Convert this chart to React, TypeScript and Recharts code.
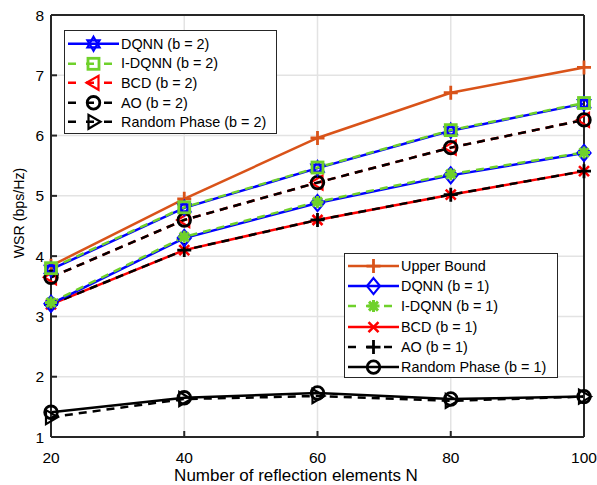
import React from 'react'
import { LineChart, Line, XAxis, YAxis, CartesianGrid } from 'recharts'

const N = [20, 40, 60, 80, 100]
const upperBound = [3.84, 4.95, 5.96, 6.71, 7.13]
const dqnnB2 = [3.78, 4.8, 5.46, 6.08, 6.53]
const idqnnB2 = [3.8, 4.81, 5.47, 6.09, 6.54]
const bcdB2 = [3.65, 4.6, 5.22, 5.8, 6.26]
const aoB2 = [3.65, 4.6, 5.22, 5.8, 6.26]
const rpB2 = [1.33, 1.63, 1.68, 1.6, 1.67]
const dqnnB1 = [3.21, 4.3, 4.88, 5.34, 5.71]
const idqnnB1 = [3.23, 4.32, 4.9, 5.36, 5.72]
const bcdB1 = [3.2, 4.1, 4.6, 5.02, 5.41]
const aoB1 = [3.2, 4.1, 4.6, 5.02, 5.41]
const rpB1 = [1.41, 1.65, 1.73, 1.63, 1.67]
const yTicks = [1, 2, 3, 4, 5, 6, 7, 8]

const ORANGE = '#D95319'
const BLUE = '#0000FF'
const GREEN = '#6FD12B'
const RED = '#FF0000'
const BLACK = '#000000'
const AXIS = '#262626'
const FONT = '"Liberation Sans", Arial, sans-serif'

type Shape =
  | 'hexagram'
  | 'square'
  | 'triLeft'
  | 'triRight'
  | 'circle'
  | 'plus'
  | 'diamond'
  | 'asterisk'
  | 'cross'

interface SeriesConfig {
  key: string
  name: string
  values: number[]
  color: string
  dashed: boolean
  shape: Shape
}

const seriesB2: SeriesConfig[] = [
  { key: 'dqnnB2', name: 'DQNN (b = 2)', values: dqnnB2, color: BLUE, dashed: false, shape: 'hexagram' },
  { key: 'idqnnB2', name: 'I-DQNN (b = 2)', values: idqnnB2, color: GREEN, dashed: true, shape: 'square' },
  { key: 'bcdB2', name: 'BCD (b = 2)', values: bcdB2, color: RED, dashed: true, shape: 'triLeft' },
  { key: 'aoB2', name: 'AO (b = 2)', values: aoB2, color: BLACK, dashed: true, shape: 'circle' },
  { key: 'rpB2', name: 'Random Phase (b = 2)', values: rpB2, color: BLACK, dashed: true, shape: 'triRight' },
]

const seriesB1: SeriesConfig[] = [
  { key: 'upper', name: 'Upper Bound', values: upperBound, color: ORANGE, dashed: false, shape: 'plus' },
  { key: 'dqnnB1', name: 'DQNN (b = 1)', values: dqnnB1, color: BLUE, dashed: false, shape: 'diamond' },
  { key: 'idqnnB1', name: 'I-DQNN (b = 1)', values: idqnnB1, color: GREEN, dashed: true, shape: 'asterisk' },
  { key: 'bcdB1', name: 'BCD (b = 1)', values: bcdB1, color: RED, dashed: false, shape: 'cross' },
  { key: 'aoB1', name: 'AO (b = 1)', values: aoB1, color: BLACK, dashed: true, shape: 'plus' },
  { key: 'rpB1', name: 'Random Phase (b = 1)', values: rpB1, color: BLACK, dashed: false, shape: 'circle' },
]

// draw order: b=1 group first, then b=2 on top
const drawOrder: SeriesConfig[] = [
  seriesB1[0],
  seriesB1[3],
  seriesB1[4],
  seriesB1[1],
  seriesB1[2],
  seriesB1[5],
  seriesB2[2],
  seriesB2[3],
  seriesB2[4],
  seriesB2[0],
  seriesB2[1],
]

const data = N.map((n, i) => {
  const row: Record<string, number> = { n }
  ;[...seriesB1, ...seriesB2].forEach((s) => {
    row[s.key] = s.values[i]
  })
  return row
})

function Marker({ shape, cx, cy, color }: { shape: Shape; cx: number; cy: number; color: string }) {
  const sw = 2.2
  const common = { fill: 'none', stroke: color, strokeWidth: sw }
  const r = 7
  switch (shape) {
    case 'hexagram': {
      const t1 = [0, 1, 2].map((k) => {
        const a = -Math.PI / 2 + (k * 2 * Math.PI) / 3
        return `${cx + r * Math.cos(a)},${cy + r * Math.sin(a)}`
      })
      const t2 = [0, 1, 2].map((k) => {
        const a = Math.PI / 2 + (k * 2 * Math.PI) / 3
        return `${cx + r * Math.cos(a)},${cy + r * Math.sin(a)}`
      })
      return (
        <g>
          <polygon points={t1.join(' ')} {...common} />
          <polygon points={t2.join(' ')} {...common} />
        </g>
      )
    }
    case 'square':
      return <rect x={cx - 5.5} y={cy - 5.5} width={11} height={11} {...common} strokeWidth={2.8} />
    case 'triLeft':
      return <polygon points={`${cx - 7},${cy} ${cx + 5},${cy - 7} ${cx + 5},${cy + 7}`} {...common} />
    case 'triRight':
      return <polygon points={`${cx + 7},${cy} ${cx - 5},${cy - 7} ${cx - 5},${cy + 7}`} {...common} />
    case 'circle':
      return <circle cx={cx} cy={cy} r={6.3} {...common} strokeWidth={2.8} />
    case 'plus':
      return (
        <path d={`M${cx - 7},${cy}H${cx + 7}M${cx},${cy - 7}V${cy + 7}`} {...common} strokeWidth={2.8} />
      )
    case 'cross':
      return (
        <path
          d={`M${cx - 5},${cy - 5}L${cx + 5},${cy + 5}M${cx - 5},${cy + 5}L${cx + 5},${cy - 5}`}
          {...common}
          strokeWidth={2.6}
        />
      )
    case 'diamond':
      return (
        <polygon points={`${cx},${cy - 8} ${cx + 6.5},${cy} ${cx},${cy + 8} ${cx - 6.5},${cy}`} {...common} />
      )
    case 'asterisk':
      return (
        <path
          d={`M${cx - 6},${cy}H${cx + 6}M${cx},${cy - 6}V${cy + 6}M${cx - 4.5},${cy - 4.5}L${cx + 4.5},${cy + 4.5}M${cx - 4.5},${cy + 4.5}L${cx + 4.5},${cy - 4.5}`}
          {...common}
          strokeWidth={3}
        />
      )
  }
  return null
}

function LegendBox({
  items,
  left,
  top,
  width,
  rowH,
  padTop,
}: {
  items: SeriesConfig[]
  left: number
  top: number
  width: number
  rowH: number
  padTop: number
}) {
  return (
    <div
      style={{
        position: 'absolute',
        left,
        top,
        width,
        height: items.length * rowH + padTop * 2,
        boxSizing: 'border-box',
        border: `1.5px solid ${AXIS}`,
        background: '#fff',
        paddingTop: padTop,
      }}
    >
      {items.map((s) => (
        <div key={s.key} style={{ display: 'flex', alignItems: 'center', height: rowH }}>
          <svg width={54} height={rowH} style={{ marginLeft: 1, flex: 'none' }}>
            <line
              x1={2}
              x2={53}
              y1={rowH / 2}
              y2={rowH / 2}
              stroke={s.color}
              strokeWidth={2.5}
              strokeDasharray={s.dashed ? '8 10' : undefined}
            />
            <Marker shape={s.shape} cx={27.5} cy={rowH / 2} color={s.color} />
          </svg>
          <span style={{ fontFamily: FONT, fontSize: 14.4, color: '#000', marginLeft: 1, whiteSpace: 'nowrap' }}>
            {s.name}
          </span>
        </div>
      ))}
    </div>
  )
}

export default function App() {
  return (
    <div style={{ position: 'absolute', left: 0, top: 0, width: 597, height: 485, background: '#fff' }}>
      <LineChart width={597} height={485} data={data} margin={{ top: 0, right: 0, bottom: 0, left: 0 }}>
        <CartesianGrid stroke="#e3e3e3" strokeWidth={1.5} />
        <XAxis
          dataKey="n"
          type="number"
          domain={[20, 100]}
          ticks={N}
          height={48}
          stroke={AXIS}
          strokeWidth={2}
          tickSize={-6}
          tickMargin={21}
          tick={{ fill: '#000', fontSize: 15.5, fontFamily: FONT }}
        />
        <XAxis
          xAxisId="top"
          dataKey="n"
          type="number"
          orientation="top"
          domain={[20, 100]}
          ticks={N}
          height={15}
          stroke={AXIS}
          strokeWidth={2}
          tickSize={-6}
          tick={false}
        />
        <YAxis
          type="number"
          domain={[1, 8]}
          ticks={yTicks}
          width={51}
          stroke={AXIS}
          strokeWidth={2}
          tickSize={-6}
          tickMargin={13}
          tick={{ fill: '#000', fontSize: 15.5, fontFamily: FONT }}
        />
        <YAxis
          yAxisId="right"
          orientation="right"
          type="number"
          domain={[1, 8]}
          ticks={yTicks}
          width={13}
          stroke={AXIS}
          strokeWidth={2}
          tickSize={-6}
          tick={false}
        />
        {drawOrder.map((s) => (
          <Line
            key={s.key}
            dataKey={s.key}
            name={s.name}
            type="linear"
            stroke={s.color}
            strokeWidth={2.5}
            strokeDasharray={s.dashed ? '8 6' : undefined}
            isAnimationActive={false}
            dot={(p: any) => (
              <Marker key={`${s.key}-${p.index}`} shape={s.shape} cx={p.cx} cy={p.cy} color={s.color} />
            )}
            activeDot={false}
          />
        ))}
      </LineChart>
      <LegendBox items={seriesB2} left={64} top={30} width={213} rowH={19.6} padTop={3} />
      <LegendBox items={seriesB1} left={344} top={253} width={214} rowH={20.2} padTop={2} />
      <div
        style={{
          position: 'absolute',
          left: 19,
          top: 213,
          transform: 'translate(-50%, -50%) rotate(-90deg)',
          fontFamily: FONT,
          fontSize: 14.2,
          whiteSpace: 'nowrap',
          color: '#000',
        }}
      >
        WSR (bps/Hz)
      </div>
      <div
        style={{
          position: 'absolute',
          left: 296,
          top: 466,
          transform: 'translateX(-50%)',
          fontFamily: FONT,
          fontSize: 17,
          lineHeight: '19px',
          whiteSpace: 'nowrap',
          color: '#000',
        }}
      >
        Number of reflection elements N
      </div>
    </div>
  )
}
